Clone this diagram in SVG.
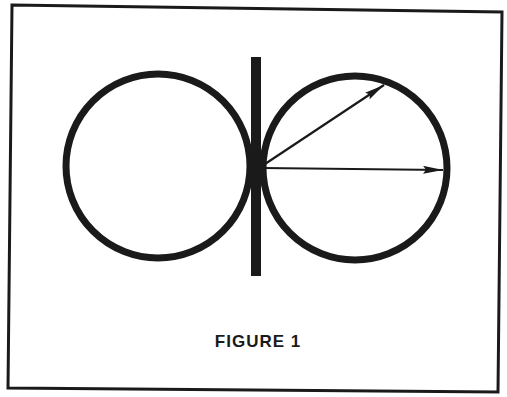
<svg xmlns="http://www.w3.org/2000/svg" width="507" height="397" viewBox="0 0 507 397">
<style>
.frame{fill:#fff;stroke:#1a1a1a;stroke-width:3}
.lobe{fill:none;stroke:#1a1a1a;stroke-width:7}
.vec{stroke:#1a1a1a;stroke-width:2.2;fill:none}
.lbl{font-family:"Liberation Sans",Arial,sans-serif;font-weight:bold;font-size:17px;fill:#1a1a1a;letter-spacing:1px}
</style>
<defs>
<marker id="ah" viewBox="0 0 20 8" refX="20" refY="4" markerWidth="20" markerHeight="8" markerUnits="userSpaceOnUse" orient="auto">
<path d="M0,0 L20,4 L0,8 L3,4 Z" fill="#1a1a1a"/>
</marker>
</defs>
<rect width="507" height="397" fill="#fff"/>
<g id="frame"><polygon class="frame" points="12,5 502,12 498,392 8,388"/></g>
<g id="left-lobe"><circle class="lobe" cx="158" cy="166" r="92"/></g>
<g id="right-lobe"><circle class="lobe" cx="355" cy="168" r="92"/></g>
<g id="antenna"><rect x="251" y="57" width="10" height="219" fill="#1a1a1a"/></g>
<g id="connectors">
<line class="vec" x1="262" y1="166" x2="384" y2="85" marker-end="url(#ah)"/>
<line class="vec" x1="262" y1="168" x2="443" y2="170" marker-end="url(#ah)"/>
</g>
<g id="caption"><text class="lbl" x="258" y="347" text-anchor="middle">FIGURE 1</text></g>
</svg>
